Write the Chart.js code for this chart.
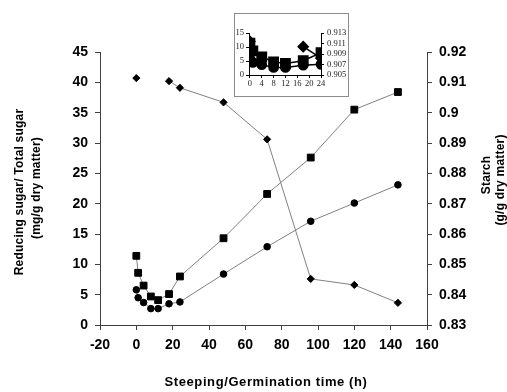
<!DOCTYPE html>
<html>
<head>
<meta charset="utf-8">
<script src="https://cdn.jsdelivr.net/npm/chart.js@4"></script>
<style>
  body { margin: 0; background: #fff; }
  #wrap { position: relative; width: 507px; height: 392px; overflow: hidden; }
  #inset { position: absolute; left: 234px; top: 13px; width: 115px; height: 84px;
           border: 1px solid #8c8c8c; box-sizing: border-box; background: #fff; }
</style>
</head>
<body>
<div id="wrap">
  <canvas id="main" width="507" height="392"></canvas>
  <div id="inset"><canvas id="zoomed" width="113" height="82"></canvas></div>
</div>
<script>
// sampling times (h)
const hours = [0, 1, 4, 8, 12, 18, 24, 48, 72, 96, 120, 144];
const totalSugar = [11.4, 8.6, 6.5, 4.7, 4.1, 5.1, 8.0, 14.3, 21.6, 27.6, 35.5, 38.4];
const reducingSugar = [5.8, 4.5, 3.7, 2.7, 2.7, 3.5, 3.8, 8.4, 12.9, 17.1, 20.1, 23.1];
const starchHours = [0, 18, 24, 48, 72, 96, 120, 144];
const starch = [0.9114, 0.9104, 0.9082, 0.9034, 0.8912, 0.8452, 0.8432, 0.8373];

// inset covers the first 24 h
const insetCount = 7;
const insetStarchCount = 3;

const xTicks = [-20, 0, 20, 40, 60, 80, 100, 120, 140, 160];
const sugarTicks = [0, 5, 10, 15, 20, 25, 30, 35, 40, 45];
const starchTicks = [0.83, 0.84, 0.85, 0.86, 0.87, 0.88, 0.89, 0.9, 0.91, 0.92];
const insetXTicks = [0, 4, 8, 12, 16, 20, 24];
const insetSugarTicks = [0, 5, 10, 15];
const insetStarchTicks = [0.905, 0.907, 0.909, 0.911, 0.913];

const xTitle = 'Steeping/Germination time (h)';
const leftTitle = ['Reducing sugar/ Total sugar', '(mg/g dry matter)'];
const rightTitle = ['Starch', '(g/g dry matter)'];

const pts = (xs, ys) => xs.map((x, i) => ({ x, y: ys[i] }));
const setTicks = list => s => { s.ticks = list.map(v => ({ value: v })); };

const BOLD = { family: '"Liberation Sans", Arial, sans-serif', size: 14, weight: 'bold' };
const SERIF = { family: '"Liberation Serif", "Times New Roman", serif', size: 8.5 };
const LINE = '#808080';

function axis(extra) {
  return Object.assign({
    grid: { drawOnChartArea: false, tickLength: 5, color: '#404040' },
    border: { color: '#404040', width: 1 },
    ticks: { font: BOLD, color: '#000', padding: 7, autoSkip: false, maxRotation: 0 }
  }, extra);
}

const axisTitles = {
  id: 'axisTitles',
  afterDraw(chart) {
    const c = chart.ctx;
    const vert = (txt, x, y) => {
      c.save(); c.translate(x, y); c.rotate(-Math.PI / 2); c.fillText(txt, 0, 0); c.restore();
    };
    c.save();
    c.fillStyle = '#000';
    c.textAlign = 'center';
    c.textBaseline = 'middle';
    c.font = 'bold 13px "Liberation Sans", Arial, sans-serif';
    c.letterSpacing = '0.6px';
    c.fillText(xTitle, 266, 382);
    c.font = 'bold 12px "Liberation Sans", Arial, sans-serif';
    c.letterSpacing = '0.2px';
    vert(leftTitle[0], 20, 192);
    vert(leftTitle[1], 37, 188);
    vert(rightTitle[0], 487, 175);
    vert(rightTitle[1], 501, 180);
    c.restore();
  }
};

new Chart(document.getElementById('main'), {
  type: 'line',
  data: {
    datasets: [
      { data: pts(hours, totalSugar), yAxisID: 'y', borderColor: LINE, borderWidth: 1,
        pointStyle: 'rect', pointRadius: 4.8, pointBackgroundColor: '#000', pointBorderColor: '#000', pointBorderWidth: 1 },
      { data: pts(hours, reducingSugar), yAxisID: 'y', borderColor: LINE, borderWidth: 1,
        pointStyle: 'circle', pointRadius: 3.3, pointBackgroundColor: '#000', pointBorderColor: '#000', pointBorderWidth: 1 },
      { data: pts(starchHours, starch), yAxisID: 'y2', borderColor: LINE, borderWidth: 1,
        pointStyle: 'rectRot', pointRadius: 3.6, pointBackgroundColor: '#000', pointBorderColor: '#000', pointBorderWidth: 1,
        segment: { borderColor: ctx => ctx.p0DataIndex === 0 ? 'rgba(0,0,0,0)' : undefined } }
    ]
  },
  options: {
    responsive: false,
    animation: false,
    layout: { padding: { top: 52, left: 0, right: 0, bottom: 0 } },
    plugins: { legend: { display: false }, tooltip: { enabled: false } },
    scales: {
      x: axis({ type: 'linear', min: -20, max: 160, afterBuildTicks: setTicks(xTicks),
                afterFit: s => { s.height = 67; } }),
      y: axis({ position: 'left', min: 0, max: 45, afterBuildTicks: setTicks(sugarTicks),
                afterFit: s => { s.width = 100; } }),
      y2: axis({ position: 'right', min: 0.83, max: 0.92, afterBuildTicks: setTicks(starchTicks),
                 afterFit: s => { s.width = 80; },
                 ticks: { font: BOLD, color: '#000', padding: 7, autoSkip: false,
                          callback: v => String(+v.toFixed(2)) } })
    }
  },
  plugins: [axisTitles]
});

function insetAxis(extra) {
  return Object.assign({
    grid: { drawOnChartArea: false, tickLength: 3, color: '#000' },
    border: { color: '#000', width: 1 },
    ticks: { font: SERIF, color: '#222', padding: 2, autoSkip: false, maxRotation: 0 }
  }, extra);
}

new Chart(document.getElementById('zoomed'), {
  type: 'line',
  data: {
    datasets: [
      { data: pts(hours.slice(0, insetCount), totalSugar.slice(0, insetCount)), yAxisID: 'y',
        borderColor: '#000', borderWidth: 1.5, pointStyle: 'rect', pointRadius: 6.6,
        pointBackgroundColor: '#000', pointBorderColor: '#000' },
      { data: pts(hours.slice(0, insetCount), reducingSugar.slice(0, insetCount)), yAxisID: 'y',
        borderColor: '#000', borderWidth: 1.5, pointStyle: 'circle', pointRadius: 4.6,
        pointBackgroundColor: '#000', pointBorderColor: '#000' },
      { data: pts(starchHours.slice(0, insetStarchCount), starch.slice(0, insetStarchCount)), yAxisID: 'y2',
        borderColor: '#000', borderWidth: 1.5, pointStyle: 'rectRot', pointRadius: 5,
        pointBackgroundColor: '#000', pointBorderColor: '#000',
        segment: { borderColor: ctx => ctx.p0DataIndex === 0 ? 'rgba(0,0,0,0)' : undefined } }
    ]
  },
  options: {
    responsive: false,
    animation: false,
    layout: { padding: { top: 19, left: 0, right: 0, bottom: 0 } },
    plugins: { legend: { display: false }, tooltip: { enabled: false } },
    scales: {
      x: insetAxis({ type: 'linear', min: -0.3, max: 24, afterBuildTicks: setTicks(insetXTicks),
                     afterFit: s => { s.height = 21; },
                     ticks: { font: SERIF, color: '#222', padding: 1, autoSkip: false, maxRotation: 0 } }),
      y: insetAxis({ position: 'left', min: 0, max: 15, afterBuildTicks: setTicks(insetSugarTicks),
                     afterFit: s => { s.width = 14; } }),
      y2: insetAxis({ position: 'right', min: 0.905, max: 0.913, afterBuildTicks: setTicks(insetStarchTicks),
                      afterFit: s => { s.width = 27; },
                      ticks: { font: SERIF, color: '#222', padding: 3, autoSkip: false,
                               callback: v => v.toFixed(3) } })
    }
  }
});
</script>
</body>
</html>
